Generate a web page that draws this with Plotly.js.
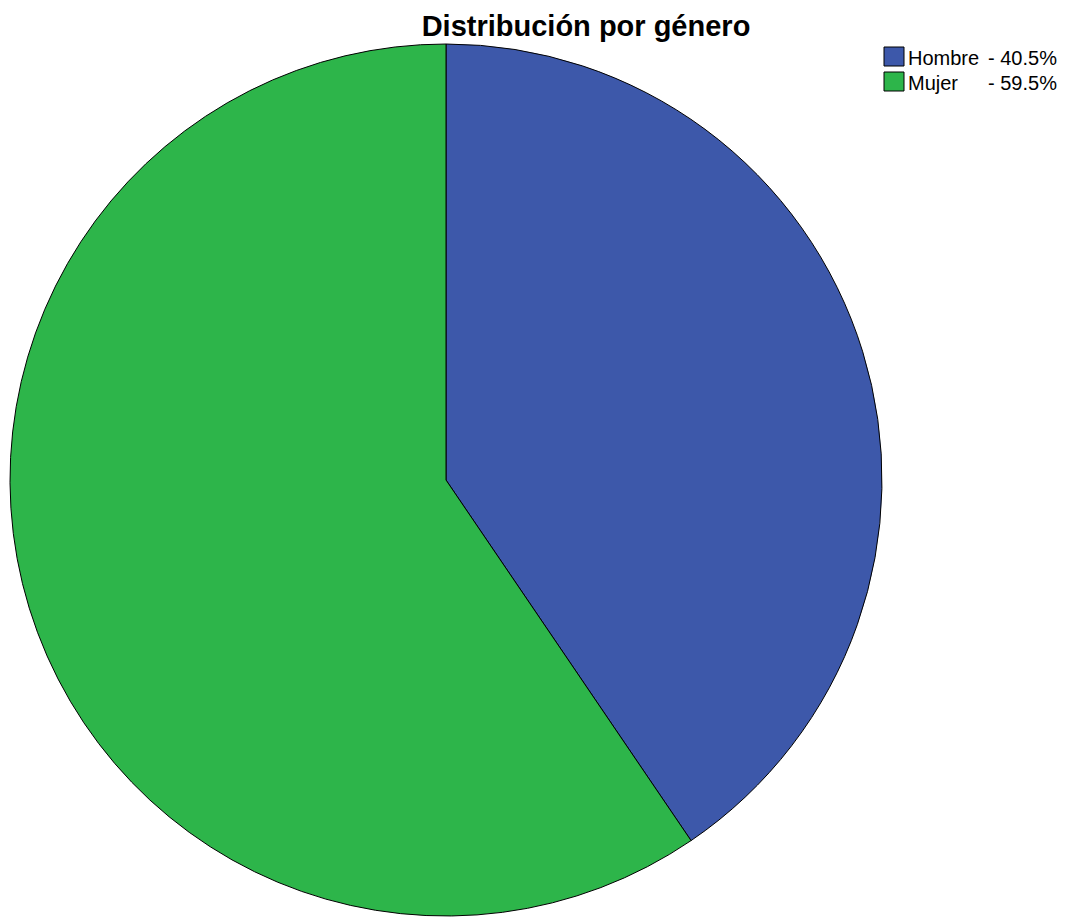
<!DOCTYPE html>
<html><head><meta charset="utf-8">
<script src="https://cdn.plot.ly/plotly-3.0.1.min.js"></script>
<style>html,body{margin:0;padding:0;background:#fff}#chart{width:1065px;height:918px}</style>
</head><body><div id="chart"></div>
<script>
const categories = ["Hombre", "Mujer"];
const values = [40.5, 59.5];
const colors = ["#3d58aa", "#2db54a"];
const chartTitle = "Distribución por género";

const W = 1065, H = 918;
const total = values.reduce((a, b) => a + b, 0);
const pctText = values.map(v => "- " + (100 * v / total).toFixed(1) + "%");

const trace = {
  type: "pie",
  labels: categories,
  values: values,
  sort: false,
  direction: "clockwise",
  rotation: 0,
  textinfo: "none",
  hoverinfo: "label+percent",
  marker: {colors: colors, line: {color: "#000", width: 1}},
  domain: {x: [10/W, 882/W], y: [2/H, 874/H]}
};

// custom legend (swatches + text), one row per category
const rowTop0 = 47, rowStep = 25, swW = 20, swH = 19, swX = 884;
const shapes = [], annotations = [];
categories.forEach((c, i) => {
  const top = rowTop0 + i * rowStep;
  shapes.push({type: "rect", xref: "paper", yref: "paper",
    x0: swX / W, x1: (swX + swW) / W, y0: 1 - (top + swH) / H, y1: 1 - top / H,
    fillcolor: colors[i], line: {color: "#000", width: 1}});
  const yc = 1 - (top + swH / 2 + 1) / H;
  annotations.push({xref: "paper", yref: "paper", x: 906 / W, y: yc, xanchor: "left", yanchor: "middle",
    text: c, showarrow: false, font: {size: 20, color: "#000"}});
  annotations.push({xref: "paper", yref: "paper", x: 1059 / W, y: yc, xanchor: "right", yanchor: "middle",
    text: pctText[i], showarrow: false, font: {size: 20, color: "#000"}});
});

const layout = {
  width: W, height: H,
  margin: {l: 0, r: 0, t: 0, b: 0},
  paper_bgcolor: "#fff",
  font: {family: "Liberation Sans, Arial, sans-serif", color: "#000"},
  title: {text: "<b>" + chartTitle + "</b>", font: {size: 29, family: "Liberation Sans, Arial, sans-serif", color: "#000"},
          x: 586/W, xanchor: "center", xref: "paper", y: 1 - 26/H, yanchor: "middle", yref: "container"},
  showlegend: false,
  shapes: shapes,
  annotations: annotations
};
Plotly.newPlot("chart", [trace], layout, {displayModeBar: false, staticPlot: true});
</script></body></html>
